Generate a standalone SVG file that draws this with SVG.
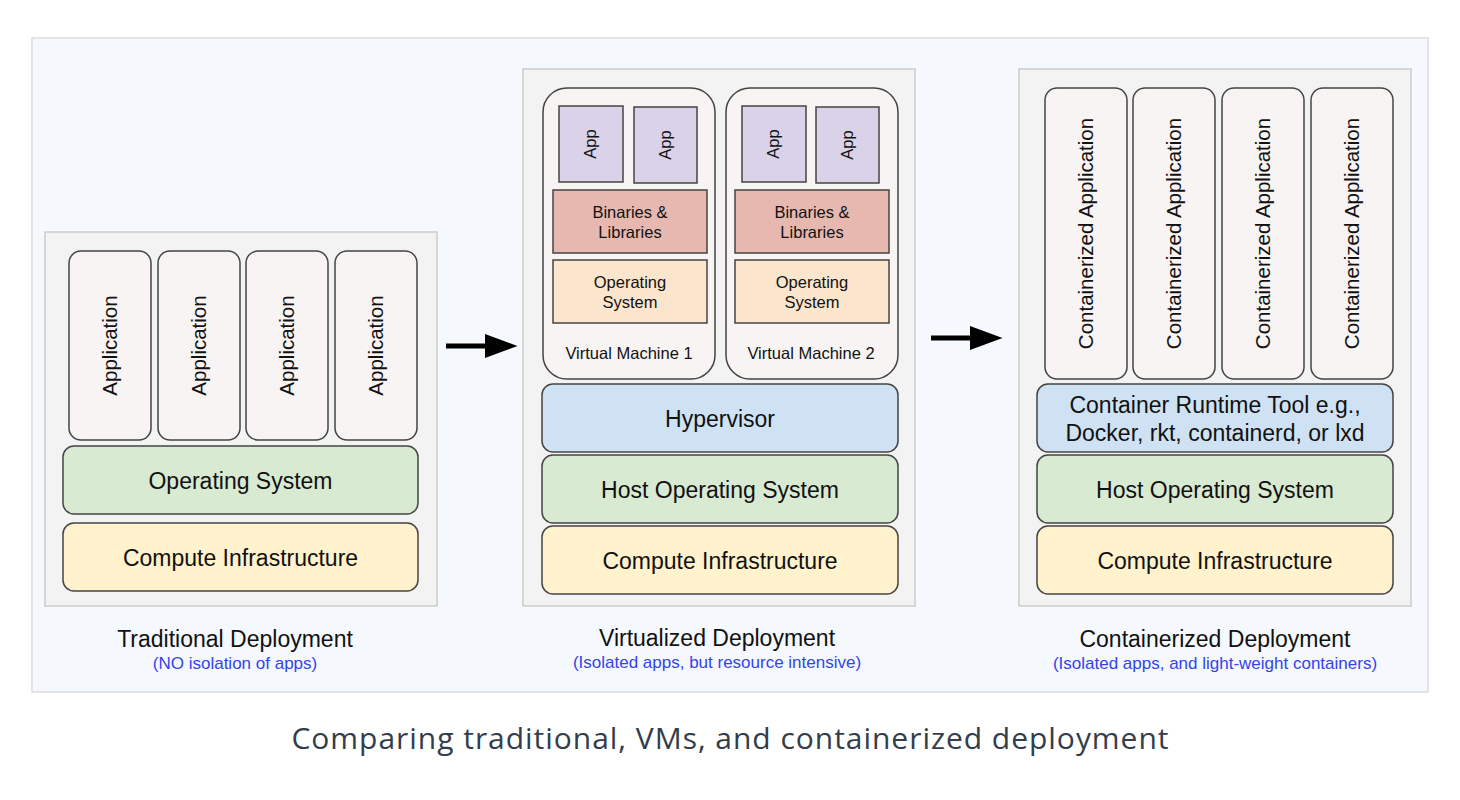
<svg xmlns="http://www.w3.org/2000/svg" width="1460" height="800" viewBox="0 0 1460 800">
<defs>
<style>
text{font-family:"Liberation Sans",Arial,sans-serif;fill:#111;text-anchor:middle}
.panel{fill:#f3f3f3;stroke:#cccccc;stroke-width:1.5}
.box{stroke:#444;stroke-width:1.5}
.app{fill:#f7f4f3}
.os{fill:#d9ead3}
.ci{fill:#fff2cc}
.hv{fill:#cfe2f3}
.pa{fill:#d9d2e9}
.bin{fill:#e6b8af}
.vos{fill:#fce5cd}
.big{font-size:23px}
.mid{font-size:20.5px}
.sm{font-size:16.5px}
.title{font-size:23px}
.sub{font-size:17px;fill:#3344ee}
</style>
<marker id="ah" viewBox="0 0 10 10" refX="0" refY="5" markerWidth="6.5" markerHeight="4.8" orient="auto" markerUnits="strokeWidth" preserveAspectRatio="none">
<path d="M0,0 L10,5 L0,10 Z" fill="#000"/>
</marker>
</defs>
<rect x="0" y="0" width="1460" height="800" fill="#ffffff"/>
<rect x="32" y="38" width="1396" height="654" fill="#f5f8fd" stroke="#dddddd" stroke-width="1.5"/>

<g id="traditional">
<rect class="panel" x="45" y="232" width="392" height="374"/>
<g id="t-app1"><rect class="box app" x="69" y="251" width="82" height="189" rx="12"/><text class="mid" transform="translate(117,345.5) rotate(-90)">Application</text></g>
<g id="t-app2"><rect class="box app" x="158" y="251" width="82" height="189" rx="12"/><text class="mid" transform="translate(206,345.5) rotate(-90)">Application</text></g>
<g id="t-app3"><rect class="box app" x="246" y="251" width="82" height="189" rx="12"/><text class="mid" transform="translate(294,345.5) rotate(-90)">Application</text></g>
<g id="t-app4"><rect class="box app" x="335" y="251" width="82" height="189" rx="12"/><text class="mid" transform="translate(383,345.5) rotate(-90)">Application</text></g>
<g id="t-os"><rect class="box os" x="63" y="446" width="355" height="68" rx="11"/><text class="big" x="240.5" y="489">Operating System</text></g>
<g id="t-ci"><rect class="box ci" x="63" y="523" width="355" height="68" rx="11"/><text class="big" x="240.5" y="566">Compute Infrastructure</text></g>
<text class="title" x="235" y="647">Traditional Deployment</text>
<text class="sub" x="235" y="669">(NO isolation of apps)</text>
</g>

<g id="virtualized">
<rect class="panel" x="523" y="69" width="392" height="537"/>
<g id="vm1">
<rect class="box app" x="543" y="88" width="172" height="291" rx="24"/>
<rect class="box pa" x="559" y="106" width="64" height="76"/><text class="sm" transform="translate(596,144) rotate(-90)">App</text>
<rect class="box pa" x="634" y="107" width="63" height="76"/><text class="sm" transform="translate(671,145) rotate(-90)">App</text>
<rect class="box bin" x="553" y="190" width="154" height="63"/><text class="sm" x="630" y="218">Binaries &amp;</text><text class="sm" x="630" y="238">Libraries</text>
<rect class="box vos" x="553" y="260" width="154" height="63"/><text class="sm" x="630" y="288">Operating</text><text class="sm" x="630" y="308">System</text>
<text class="sm" x="629" y="359">Virtual Machine 1</text>
</g>
<g id="vm2">
<rect class="box app" x="726" y="88" width="172" height="291" rx="24"/>
<rect class="box pa" x="742" y="106" width="64" height="76"/><text class="sm" transform="translate(779,144) rotate(-90)">App</text>
<rect class="box pa" x="816" y="107" width="63" height="76"/><text class="sm" transform="translate(853,145) rotate(-90)">App</text>
<rect class="box bin" x="735" y="190" width="154" height="63"/><text class="sm" x="812" y="218">Binaries &amp;</text><text class="sm" x="812" y="238">Libraries</text>
<rect class="box vos" x="735" y="260" width="154" height="63"/><text class="sm" x="812" y="288">Operating</text><text class="sm" x="812" y="308">System</text>
<text class="sm" x="811" y="359">Virtual Machine 2</text>
</g>
<g id="v-hv"><rect class="box hv" x="542" y="384" width="356" height="68" rx="11"/><text class="big" x="720" y="427">Hypervisor</text></g>
<g id="v-os"><rect class="box os" x="542" y="455" width="356" height="68" rx="11"/><text class="big" x="720" y="498">Host Operating System</text></g>
<g id="v-ci"><rect class="box ci" x="542" y="526" width="356" height="68" rx="11"/><text class="big" x="720" y="569">Compute Infrastructure</text></g>
<text class="title" x="717" y="646">Virtualized Deployment</text>
<text class="sub" x="717" y="668">(Isolated apps, but resource intensive)</text>
</g>

<g id="containerized">
<rect class="panel" x="1019" y="69" width="392" height="537"/>
<g id="c-app1"><rect class="box app" x="1045" y="88" width="82" height="291" rx="12"/><text class="mid" transform="translate(1093,233.5) rotate(-90)">Containerized Application</text></g>
<g id="c-app2"><rect class="box app" x="1133" y="88" width="82" height="291" rx="12"/><text class="mid" transform="translate(1181,233.5) rotate(-90)">Containerized Application</text></g>
<g id="c-app3"><rect class="box app" x="1222" y="88" width="82" height="291" rx="12"/><text class="mid" transform="translate(1270,233.5) rotate(-90)">Containerized Application</text></g>
<g id="c-app4"><rect class="box app" x="1311" y="88" width="82" height="291" rx="12"/><text class="mid" transform="translate(1359,233.5) rotate(-90)">Containerized Application</text></g>
<g id="c-rt"><rect class="box hv" x="1037" y="384" width="356" height="68" rx="11"/><text class="big" x="1215" y="413">Container Runtime Tool e.g.,</text><text class="big" x="1215" y="441">Docker, rkt, containerd, or lxd</text></g>
<g id="c-os"><rect class="box os" x="1037" y="455" width="356" height="68" rx="11"/><text class="big" x="1215" y="498">Host Operating System</text></g>
<g id="c-ci"><rect class="box ci" x="1037" y="526" width="356" height="68" rx="11"/><text class="big" x="1215" y="569">Compute Infrastructure</text></g>
<text class="title" x="1215" y="647">Containerized Deployment</text>
<text class="sub" x="1215" y="669">(Isolated apps, and light-weight containers)</text>
</g>

<g id="connectors">
<line x1="446" y1="346" x2="485" y2="346" stroke="#000" stroke-width="5" marker-end="url(#ah)"/>
<line x1="931" y1="338" x2="970" y2="338" stroke="#000" stroke-width="5" marker-end="url(#ah)"/>
</g>

<text x="730" y="749" style="font-family:'Open Sans','Noto Sans',sans-serif;font-size:30px;fill:#333d4b" textLength="877">Comparing traditional, VMs, and containerized deployment</text>
</svg>
